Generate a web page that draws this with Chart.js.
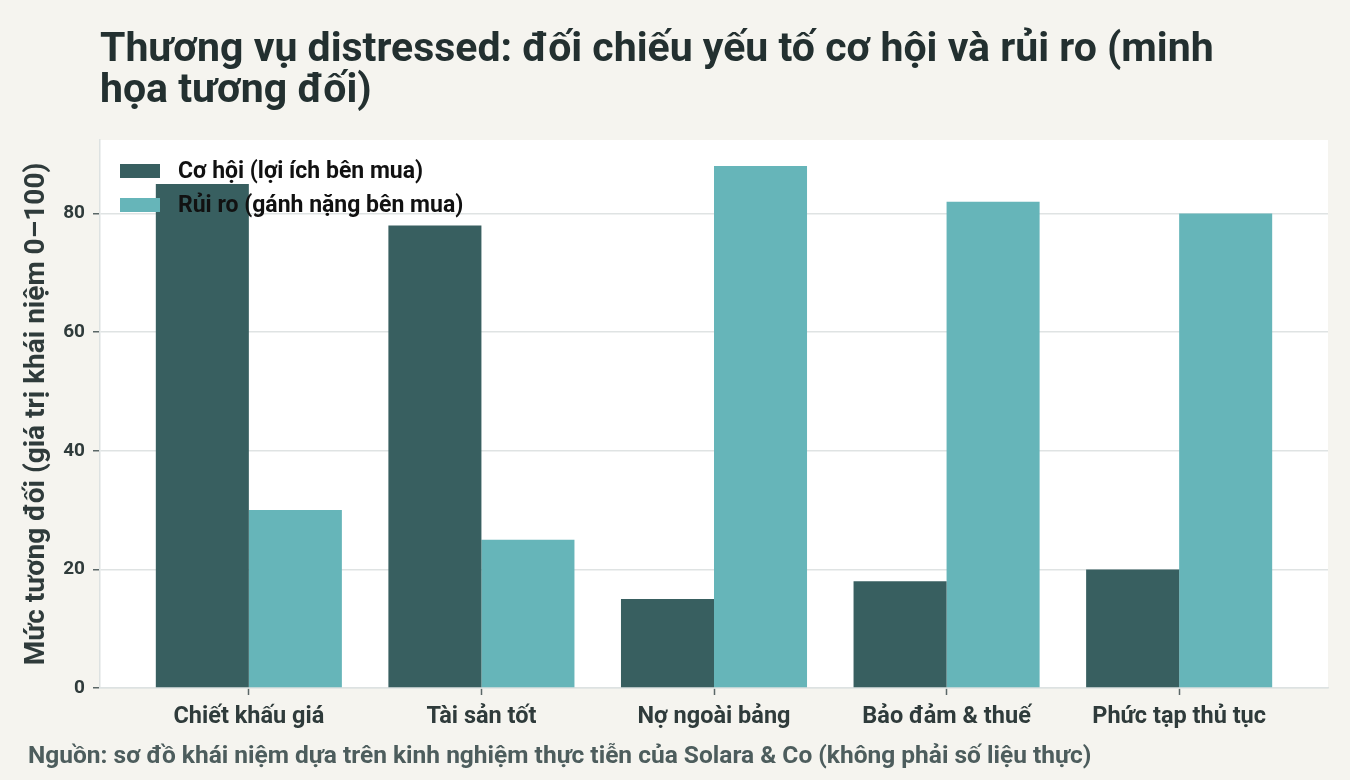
<!DOCTYPE html>
<html>
<head>
<meta charset="utf-8">
<script src="https://cdn.jsdelivr.net/npm/chart.js@4"></script>
<style>
  html, body { margin: 0; padding: 0; background: #f5f4ef; }
</style>
</head>
<body>
<canvas id="myChart" width="1350" height="780"></canvas>
<script>
// data
const categories = ['Chiết khấu giá', 'Tài sản tốt', 'Nợ ngoài bảng', 'Bảo đảm & thuế', 'Phức tạp thủ tục'];
const opportunity = [85, 78, 15, 18, 20];
const risk = [30, 25, 88, 82, 80];
const seriesLabels = ['Cơ hội (lợi ích bên mua)', 'Rủi ro (gánh nặng bên mua)'];
const yTicks = [0, 20, 40, 60, 80];

const titleLines = ['Thương vụ distressed: đối chiếu yếu tố cơ hội và rủi ro (minh', 'họa tương đối)'];
const sourceNote = 'Nguồn: sơ đồ khái niệm dựa trên kinh nghiệm thực tiễn của Solara & Co (không phải số liệu thực)';

const FONT = 'Roboto';
const colors = ['#385f60', '#66b5b9'];

function toPoints(values) {
  return values.map((v, i) => ({x: i, y: v}));
}

const backdrop = {
  id: 'backdrop',
  beforeDraw(chart) {
    const {ctx, chartArea: a} = chart;
    ctx.save();
    ctx.fillStyle = '#f5f4ef';
    ctx.fillRect(0, 0, chart.width, chart.height);
    ctx.fillStyle = '#ffffff';
    ctx.fillRect(a.left, a.top, a.right - a.left, a.bottom - a.top);
    ctx.restore();
  },
  afterDraw(chart) {
    const ctx = chart.ctx;
    ctx.save();
    ctx.fillStyle = '#233030';
    ctx.font = 'bold 41px ' + FONT;
    ctx.textBaseline = 'alphabetic';
    ctx.fillText(titleLines[0], 100, 61);
    ctx.fillText(titleLines[1], 100, 102);
    ctx.fillStyle = '#4d5d5d';
    ctx.font = 'bold 24.5px ' + FONT;
    ctx.fillText(sourceNote, 28, 763);
    ctx.restore();
  }
};

const insideLegend = {
  id: 'insideLegend',
  afterDatasetsDraw(chart) {
    const {ctx, chartArea: a} = chart;
    ctx.save();
    ctx.font = 'bold 23px ' + FONT;
    ctx.textBaseline = 'middle';
    chart.data.datasets.forEach((ds, i) => {
      const y = a.top + 31 + i * 34;
      ctx.fillStyle = ds.backgroundColor;
      ctx.fillRect(a.left + 20, y - 7, 40, 14);
      ctx.fillStyle = '#111111';
      ctx.fillText(ds.label, a.left + 78, y + 1);
    });
    ctx.restore();
  }
};

new Chart(document.getElementById('myChart').getContext('2d'), {
  type: 'bar',
  data: {
    datasets: [
      {label: seriesLabels[0], data: toPoints(opportunity), backgroundColor: colors[0]},
      {label: seriesLabels[1], data: toPoints(risk), backgroundColor: colors[1]}
    ]
  },
  options: {
    responsive: false,
    devicePixelRatio: 1,
    animation: false,
    layout: {padding: {top: 140, right: 22, left: 0, bottom: 0}},
    datasets: {bar: {barPercentage: 1.0, categoryPercentage: 0.8, borderWidth: 0}},
    plugins: {
      legend: {display: false},
      title: {display: false},
      tooltip: {enabled: false}
    },
    scales: {
      x: {
        type: 'linear',
        offset: false,
        min: -0.64,
        max: 4.64,
        afterBuildTicks(scale) {
          scale.ticks = categories.map((c, i) => ({value: i}));
        },
        afterFit(scale) { scale.height = 92; },
        grid: {offset: false, drawOnChartArea: false, drawTicks: true, tickLength: 7, tickColor: '#5a6767', tickWidth: 1.5},
        border: {display: true, color: '#dde2e2', width: 1.5},
        ticks: {
          padding: 8,
          color: '#2f3b3b',
          font: {family: FONT, size: 23.5, weight: 'bold'},
          callback: (v) => categories[v]
        }
      },
      y: {
        min: 0,
        max: 92.4,
        afterBuildTicks(scale) {
          scale.ticks = yTicks.map(v => ({value: v}));
        },
        afterFit(scale) { scale.width = 100; },
        grid: {color: '#dfe3e3', lineWidth: 1.5, drawTicks: true, tickLength: 7, tickColor: '#5a6767', tickWidth: 1.5},
        border: {display: true, color: '#dde2e2', width: 1.5},
        ticks: {
          padding: 8,
          color: '#2f3b3b',
          font: {family: FONT, size: 19, weight: 'bold'}
        },
        title: {
          display: true,
          text: 'Mức tương đối (giá trị khái niệm 0–100)',
          color: '#2f3b3b',
          font: {family: FONT, size: 28, weight: 'bold'},
          padding: {top: 20, bottom: 0}
        }
      }
    }
  },
  plugins: [backdrop, insideLegend]
});
</script>
</body>
</html>
